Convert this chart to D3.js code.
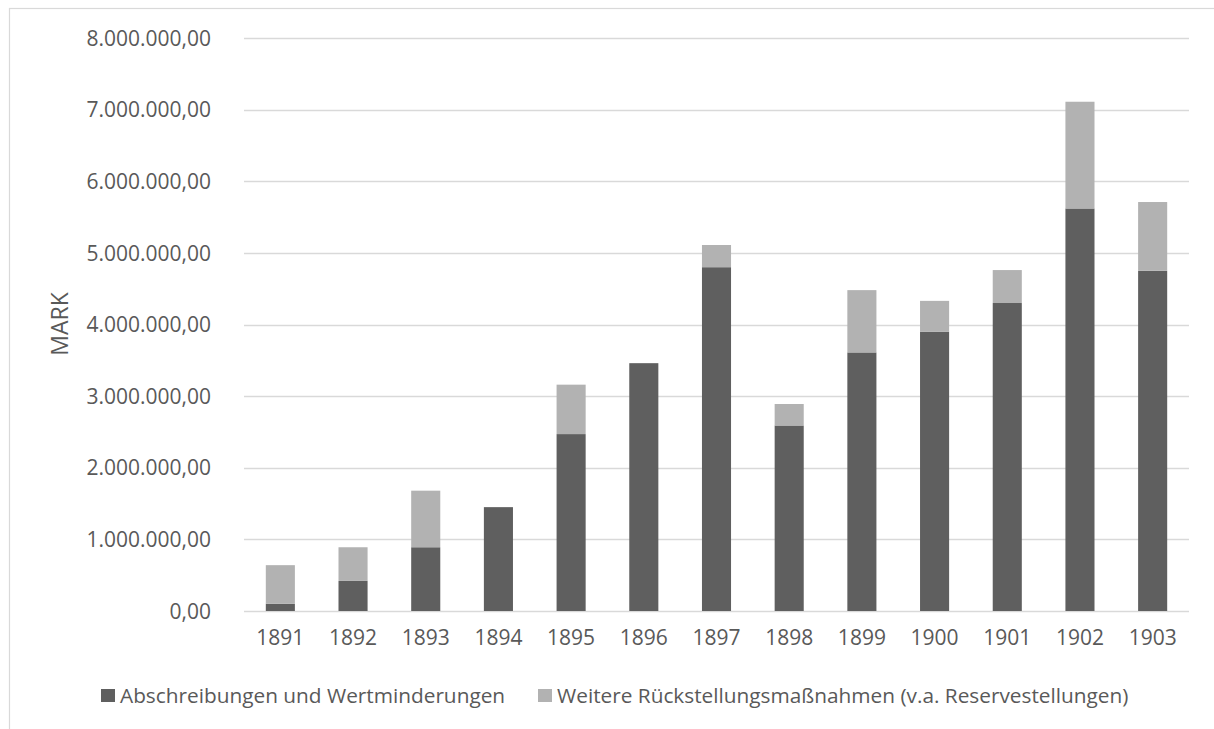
<!DOCTYPE html>
<html>
<head>
<meta charset="utf-8">
<script src="https://cdn.jsdelivr.net/npm/d3@7"></script>
<style>
  html, body { margin: 0; padding: 0; background: #fff; }
  svg { display: block; }
  svg text { font-family: "Open Sans", "Noto Sans", sans-serif; }
</style>
</head>
<body>
<svg id="chart" width="1214" height="729"></svg>
<script>
// Jahre (Kategorien)
const years = ["1891","1892","1893","1894","1895","1896","1897","1898","1899","1900","1901","1902","1903"];
// Abschreibungen und Wertminderungen (Mark)
const abschreibungen = [100000, 420000, 890000, 1450000, 2470000, 3460000, 4800000, 2590000, 3610000, 3900000, 4300000, 5620000, 4750000];
// Weitere Rückstellungsmaßnahmen (Mark)
const rueckstellungen = [540000, 470000, 790000, 0, 690000, 0, 310000, 300000, 870000, 430000, 460000, 1490000, 960000];
// Achsenbeschriftung
const yTicks = [0, 1000000, 2000000, 3000000, 4000000, 5000000, 6000000, 7000000, 8000000];
const seriesNames = ["Abschreibungen und Wertminderungen", "Weitere Rückstellungsmaßnahmen (v.a. Reservestellungen)"];
const seriesColors = ["#5f5f5f", "#b2b2b2"];

const svg = d3.select("#chart");
const plot = { left: 244, right: 1189, top: 38, bottom: 611 };
const textColor = "#595959";
const fontFamily = '"Open Sans", "Noto Sans", sans-serif';
const fontSize = "21px";

// Rahmen des Diagramms
svg.append("rect")
  .attr("x", 9.5).attr("y", 8.5)
  .attr("width", 1230).attr("height", 740)
  .attr("fill", "none").attr("stroke", "#d9d9d9").attr("stroke-width", 1.2);

const x = d3.scaleBand().domain(years)
  .range([plot.left, plot.right])
  .paddingInner(0.6).paddingOuter(0.3);

const y = d3.scaleLinear().domain([0, 8000000]).range([plot.bottom, plot.top]);

const deFmt = d3.formatLocale({ decimal: ",", thousands: ".", grouping: [3], currency: ["", " €"] }).format(",.2f");

// Gitterlinien
svg.append("g")
  .selectAll("line").data(yTicks).join("line")
  .attr("x1", plot.left).attr("x2", plot.right)
  .attr("y1", d => Math.round(y(d)) + 0.5).attr("y2", d => Math.round(y(d)) + 0.5)
  .attr("stroke", "#d9d9d9").attr("stroke-width", 1.3);

// Y-Achse
const yAxis = svg.append("g")
  .attr("transform", `translate(${plot.left},0)`)
  .call(d3.axisLeft(y).tickValues(yTicks).tickFormat(deFmt).tickSize(0).tickPadding(33))
  .attr("font-family", fontFamily).attr("font-size", fontSize);
yAxis.select(".domain").remove();
yAxis.selectAll("text").attr("fill", textColor).attr("dy", "0.34em");

// X-Achse
const xAxis = svg.append("g")
  .attr("transform", `translate(0,${plot.bottom})`)
  .call(d3.axisBottom(x).tickSize(0).tickPadding(19))
  .attr("font-family", fontFamily).attr("font-size", fontSize);
xAxis.select(".domain").remove();
xAxis.selectAll("text").attr("fill", textColor);

// Gestapelte Säulen
const rows = years.map((yr, i) => ({ year: yr, a: abschreibungen[i], r: rueckstellungen[i] }));
const stacked = d3.stack().keys(["a", "r"])(rows);

svg.append("g")
  .selectAll("g").data(stacked).join("g")
  .attr("fill", (d, i) => seriesColors[i])
  .selectAll("rect").data(d => d).join("rect")
  .attr("x", d => x(d.data.year))
  .attr("width", x.bandwidth())
  .attr("y", d => y(d[1]))
  .attr("height", d => y(d[0]) - y(d[1]));

// Achsentitel
svg.append("text")
  .attr("transform", `translate(68,324) rotate(-90)`)
  .attr("text-anchor", "middle")
  .attr("fill", textColor)
  .style("font-size", "23px")
  .text("MARK");

// Legende
const legendItems = [
  { x: 101, name: seriesNames[0], color: seriesColors[0] },
  { x: 538, name: seriesNames[1], color: seriesColors[1] }
];
const leg = svg.append("g").selectAll("g").data(legendItems).join("g")
  .attr("transform", d => `translate(${d.x},689)`);
leg.append("rect").attr("width", 14).attr("height", 13).attr("fill", d => d.color);
leg.append("text")
  .attr("x", 19).attr("y", 6.5).attr("dy", "0.34em")
  .attr("fill", textColor).style("font-size", "20.8px")
  .text(d => d.name);
</script>
</body>
</html>
